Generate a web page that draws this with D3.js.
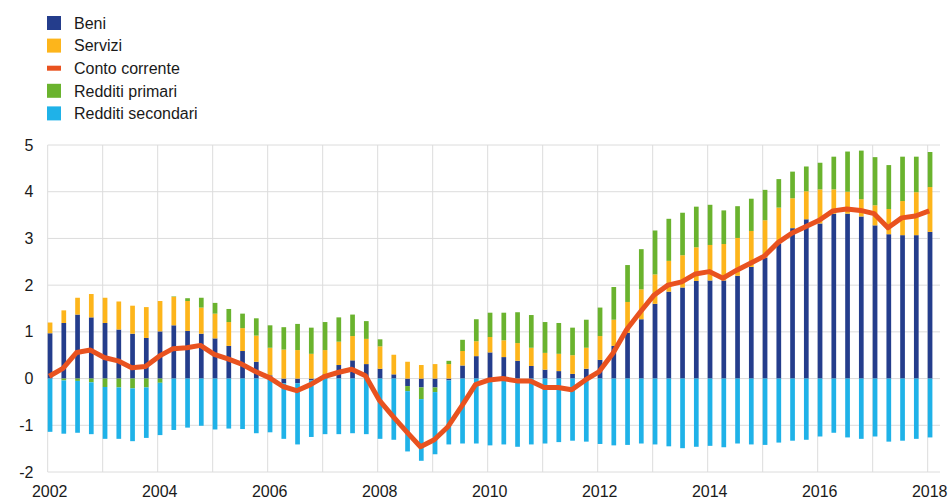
<!DOCTYPE html>
<html>
<head>
<meta charset="utf-8">
<script src="https://cdn.jsdelivr.net/npm/d3@7"></script>
<style>
  body { margin: 0; background: #fff; }
  text { font-family: "Liberation Sans", Arial, sans-serif; fill: #1a1a1a; }
</style>
</head>
<body>
<div id="chart-container"></div>
<script>
// quarters 2002Q1 .. 2018Q1
var quarters = d3.range(65).map(function (i) { return 2002 + i / 4; });

var beni = [0.97, 1.19, 1.37, 1.31, 1.19, 1.05, 0.96, 0.87, 1.01, 1.14, 1.02, 0.96, 0.86, 0.70, 0.59, 0.36,
    0.07, -0.10, -0.10, -0.04, 0.09, 0.29, 0.39, 0.31, 0.21, 0.09, -0.16, -0.19, -0.19, -0.04, 0.28, 0.48,
    0.56, 0.46, 0.38, 0.27, 0.19, 0.16, 0.10, 0.21, 0.40, 0.70, 0.98, 1.27, 1.60, 1.86, 1.95, 2.09,
    2.10, 2.10, 2.20, 2.39, 2.59, 2.89, 3.22, 3.41, 3.32, 3.53, 3.53, 3.47, 3.28, 3.09, 3.07, 3.07, 3.14];

var servizi = [0.23, 0.27, 0.36, 0.50, 0.54, 0.60, 0.60, 0.66, 0.65, 0.61, 0.64, 0.56, 0.53, 0.51, 0.49, 0.56,
    0.59, 0.62, 0.61, 0.53, 0.52, 0.50, 0.52, 0.54, 0.48, 0.42, 0.36, 0.29, 0.31, 0.31, 0.31, 0.32,
    0.33, 0.36, 0.38, 0.39, 0.36, 0.37, 0.40, 0.45, 0.51, 0.56, 0.66, 0.64, 0.63, 0.66, 0.69, 0.72,
    0.76, 0.78, 0.81, 0.77, 0.80, 0.77, 0.64, 0.60, 0.73, 0.52, 0.47, 0.37, 0.43, 0.54, 0.73, 0.92, 0.96];

var redditiPrimari = [0.00, -0.04, -0.05, -0.08, -0.18, -0.19, -0.21, -0.19, -0.09, 0.01, 0.06, 0.21, 0.23, 0.28, 0.31, 0.37,
    0.48, 0.48, 0.56, 0.56, 0.60, 0.52, 0.46, 0.38, 0.15, 0.00, -0.11, -0.25, -0.10, 0.07, 0.24, 0.47,
    0.52, 0.59, 0.66, 0.70, 0.66, 0.66, 0.59, 0.60, 0.61, 0.70, 0.79, 0.86, 0.94, 0.90, 0.91, 0.87,
    0.86, 0.72, 0.68, 0.69, 0.65, 0.61, 0.57, 0.53, 0.57, 0.70, 0.86, 1.04, 1.03, 0.94, 0.95, 0.76, 0.75];

var redditiSecondari = [-1.14, -1.14, -1.11, -1.11, -1.11, -1.10, -1.13, -1.08, -1.12, -1.10, -1.05, -1.01, -1.09, -1.07, -1.08, -1.17,
    -1.15, -1.19, -1.31, -1.21, -1.19, -1.19, -1.17, -1.19, -1.29, -1.31, -1.29, -1.32, -1.33, -1.37, -1.39, -1.39,
    -1.43, -1.41, -1.46, -1.41, -1.39, -1.36, -1.33, -1.35, -1.40, -1.43, -1.42, -1.39, -1.41, -1.45, -1.49, -1.46,
    -1.44, -1.47, -1.39, -1.41, -1.42, -1.37, -1.33, -1.31, -1.24, -1.16, -1.26, -1.29, -1.24, -1.35, -1.33, -1.29, -1.26];

var contoCorrente = [0.05, 0.22, 0.56, 0.61, 0.45, 0.38, 0.23, 0.26, 0.48, 0.64, 0.66, 0.71, 0.52, 0.42, 0.31, 0.15,
    0.02, -0.17, -0.26, -0.13, 0.04, 0.13, 0.20, 0.06, -0.46, -0.81, -1.14, -1.46, -1.31, -1.03, -0.59, -0.13,
    -0.03, 0.00, -0.05, -0.05, -0.19, -0.19, -0.24, -0.03, 0.15, 0.54, 1.05, 1.43, 1.79, 2.00, 2.07, 2.24,
    2.29, 2.15, 2.32, 2.47, 2.62, 2.91, 3.11, 3.25, 3.39, 3.59, 3.63, 3.60, 3.53, 3.23, 3.44, 3.48, 3.59];

var yTicks = [-2, -1, 0, 1, 2, 3, 4, 5];
var xLabels = [2002, 2004, 2006, 2008, 2010, 2012, 2014, 2016, 2018];
var xGrid = d3.range(2002, 2019);

var keys = ["Beni", "Servizi", "Redditi primari", "Redditi secondari"];
var colors = {
    "Beni": "#243d8c",
    "Servizi": "#fdb51b",
    "Conto corrente": "#e9521f",
    "Redditi primari": "#6ab32e",
    "Redditi secondari": "#1fb2e8"
};
var legendItems = ["Beni", "Servizi", "Conto corrente", "Redditi primari", "Redditi secondari"];

var width = 948, height = 504;
var barWidth = 4.7;

var svg = d3.select("#chart-container")
    .append("svg")
    .attr("width", width)
    .attr("height", height);

var x = d3.scaleLinear().domain([2002, 2018]).range([47.7, 927.7]);
var y = d3.scaleLinear().domain([-2, 5]).range([472, 145]);
var plotRight = 940;

// grid
svg.append("g").selectAll("line.h")
    .data(yTicks)
    .enter().append("line")
    .attr("x1", x(2002)).attr("x2", plotRight)
    .attr("y1", function (d) { return y(d); })
    .attr("y2", function (d) { return y(d); })
    .attr("stroke", "#dcdcdc").attr("stroke-width", 1);

svg.append("g").selectAll("line.v")
    .data(xGrid)
    .enter().append("line")
    .attr("x1", function (d) { return x(d); })
    .attr("x2", function (d) { return x(d); })
    .attr("y1", y(5)).attr("y2", y(-2))
    .attr("stroke", "#dcdcdc").attr("stroke-width", 1);

// axis labels
svg.append("g").selectAll("text")
    .data(yTicks)
    .enter().append("text")
    .attr("x", 33.5)
    .attr("y", function (d) { return y(d); })
    .attr("dy", "0.35em")
    .attr("text-anchor", "end")
    .style("font-size", "16px")
    .text(function (d) { return d; });

svg.append("g").selectAll("text")
    .data(xLabels)
    .enter().append("text")
    .attr("x", function (d) { return x(d) + 2; })
    .attr("y", 497)
    .attr("text-anchor", "middle")
    .style("font-size", "16px")
    .text(function (d) { return d; });

// stacked bars
var rows = quarters.map(function (q, i) {
    return {
        q: q,
        "Beni": beni[i],
        "Servizi": servizi[i],
        "Redditi primari": redditiPrimari[i],
        "Redditi secondari": redditiSecondari[i]
    };
});

var series = d3.stack().keys(keys).offset(d3.stackOffsetDiverging)(rows);

svg.append("g").selectAll("g")
    .data(series)
    .enter().append("g")
    .attr("fill", function (d) { return colors[d.key]; })
    .selectAll("rect")
    .data(function (d) { return d; })
    .enter().append("rect")
    .attr("x", function (d) { return x(d.data.q); })
    .attr("width", barWidth)
    .attr("y", function (d) { return y(Math.max(d[0], d[1])); })
    .attr("height", function (d) { return Math.abs(y(d[0]) - y(d[1])); });

// current account line
svg.append("path")
    .datum(quarters)
    .attr("fill", "none")
    .attr("stroke", colors["Conto corrente"])
    .attr("stroke-width", 5)
    .attr("stroke-linejoin", "round")
    .attr("d", d3.line()
        .x(function (d) { return x(d) + 1.5; })
        .y(function (d, i) { return y(contoCorrente[i]); }));

// legend
var legend = svg.append("g");
legendItems.forEach(function (name, i) {
    var cy = 23 + i * 22.6;
    if (name === "Conto corrente") {
        legend.append("rect")
            .attr("x", 47).attr("y", cy - 2.5)
            .attr("width", 14).attr("height", 5)
            .attr("fill", colors[name]);
    } else {
        legend.append("rect")
            .attr("x", 47).attr("y", cy - 7)
            .attr("width", 14).attr("height", 14)
            .attr("fill", colors[name]);
    }
    legend.append("text")
        .attr("x", 74).attr("y", cy)
        .attr("dy", "0.36em")
        .style("font-size", "16px")
        .text(name);
});
</script>
</body>
</html>
